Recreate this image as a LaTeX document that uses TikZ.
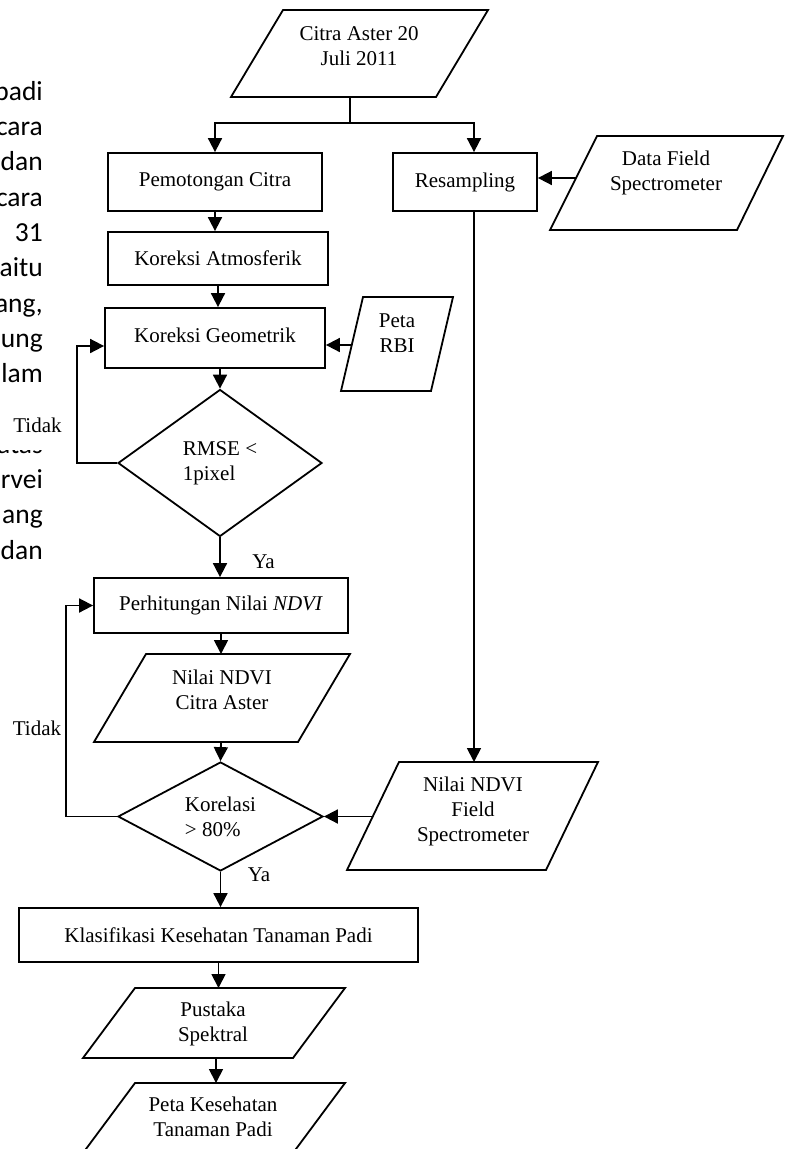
\documentclass[tikz,border=0pt]{standalone}
\usepackage{fontspec}
\setmainfont{Liberation Serif}
\newfontfamily\bgfont{Carlito}
\usetikzlibrary{arrows.meta,shapes.geometric}
\begin{document}
\begin{tikzpicture}[x=1pt,y=-1pt,
  every node/.style={font=\fontsize{21}{25}\selectfont, inner sep=0pt},
  line/.style={line width=1.8pt},
  arr/.style={line width=1.8pt, -{Triangle[length=14pt,width=14pt]}},
  box/.style={draw, line width=1.8pt, rectangle},
  dia/.style={draw, line width=1.8pt, diamond, align=left},
  para/.style={draw, line width=1.8pt},
  ptxt/.style={align=center},
  bg/.style={font=\bgfont\fontsize{27.5}{30}\selectfont, anchor=mid east}
]
\useasboundingbox (0,0) rectangle (785,1149);
\clip (0,0) rectangle (785,1149);

% background page text
\node[bg] at (43,98) {padi};
\node[bg] at (43,133.3) {cara};
\node[bg] at (43,168.6) {dan};
\node[bg] at (43,203.9) {cara};
\node[bg] at (43,239.2) {31};
\node[bg] at (43,274.5) {aitu};
\node[bg] at (43,309.8) {ang,};
\node[bg] at (43,345.1) {ung};
\node[bg] at (43,380.4) {lam};
\begin{scope}
  \clip (0,450) rectangle (70,470);
  \node[bg] at (43,451) {atas};
\end{scope}
\node[bg] at (43,486.3) {rvei};
\node[bg] at (43,521.6) {ang};
\node[bg] at (43,556.9) {dan};

% parallelograms (input/output)
\draw[para] (283,10) -- (488,10) -- (436,97) -- (231,97) -- cycle;
\node[ptxt] (citra) at (359,46.5) {Citra Aster 20\\Juli 2011};
\coordinate (citra-out) at (350,97);

\draw[para] (597,136) -- (783,136) -- (737,230) -- (550,230) -- cycle;
\node[ptxt] (data) at (666,173) {Data Field\\Spectrometer};
\coordinate (data-out) at (576,178);

\draw[para] (363,297) -- (453,297) -- (431,391) -- (341,391) -- cycle;
\node[ptxt] (rbi) at (397,333.5) {Peta\\RBI};
\coordinate (rbi-out) at (352,345);

\draw[para] (146,654) -- (350,654) -- (298,742) -- (94,742) -- cycle;
\node[ptxt] (ndvi) at (222,690) {Nilai NDVI\\Citra Aster};
\coordinate (ndvi-in) at (221,654);
\coordinate (ndvi-out) at (221,742);

\draw[para] (399,762) -- (598,762) -- (546,870) -- (347,870) -- cycle;
\node[ptxt] (field) at (473,811) {Nilai NDVI\\Field\\Spectrometer};
\coordinate (field-in) at (474,762);
\coordinate (field-out) at (372.5,816.5);

\draw[para] (135,988) -- (345,988) -- (293,1058) -- (83,1058) -- cycle;
\node[ptxt] (pus) at (213,1024) {Pustaka\\Spektral};
\coordinate (pus-in) at (218.5,988);
\coordinate (pus-out) at (216,1058);

\draw[para] (135,1083) -- (345,1083) -- (293,1153) -- (83,1153) -- cycle;
\node[ptxt] (peta) at (213,1116.5) {Peta Kesehatan\\Tanaman Padi};
\coordinate (peta-in) at (216,1083);

% process boxes
\node[box, minimum width=214pt, minimum height=58pt] (pem) at (215,182) {Pemotongan Citra};
\node[box, minimum width=220pt, minimum height=53pt] (atm) at (218,258.5) {Koreksi Atmosferik};
\node[box, minimum width=220pt, minimum height=60pt] (geo) at (215,338) {\raisebox{5pt}{Koreksi Geometrik}};
\node[box, minimum width=144pt, minimum height=58pt] (res) at (465,182) {Resampling};
\node[box, minimum width=254pt, minimum height=55pt] (perh) at (221,605.5) {Perhitungan Nilai \textit{NDVI}};
\node[box, minimum width=399pt, minimum height=54pt] (klas) at (218.5,935) {Klasifikasi Kesehatan Tanaman Padi};

% decisions
\node[dia, aspect=1.39, minimum width=204pt, minimum height=147pt] (rmse) at (220,463) {RMSE <\\1pixel};
\node[dia, aspect=1.88, minimum width=205pt, minimum height=109pt] (kor) at (220.5,816.5) {Korelasi\\> 80\%};

% connectors
\coordinate (split) at (350,123);
\draw[line] (citra-out) -- (split);
\draw[arr] (split) -| (pem.north);
\draw[arr] (split) -| ([xshift=9pt]res.north);
\draw[arr] (pem.south) -- (pem.south |- atm.north);
\draw[arr] (atm.south) -- (atm.south |- geo.north);
\draw[arr] (rmse.north |- geo.south) -- (rmse.north);
\draw[arr] (rmse.south) -- (rmse.south |- perh.north);
\draw[arr] (rmse.west) -- ++(-40,0) |- ([yshift=-8pt]geo.west);
\draw[arr] (rbi-out) -- (rbi-out -| geo.east);
\draw[arr] (data-out) -- (data-out -| res.east);
\draw[arr] ([xshift=9pt]res.south) -- (field-in);
\draw[arr] (perh.south) -- (ndvi-in);
\draw[arr] (ndvi-out) -- (kor.north);
\draw[arr] (field-out) -- (kor.east);
\draw[arr] (kor.west) -- ++(-51,0) |- (perh.west);
\draw[arr] (kor.south) -- (kor.south |- klas.north);
\draw[arr] (klas.south) -- (pus-in);
\draw[arr] (pus-out) -- (peta-in);

% labels
\node (ya1) at (263.5,562) {Ya};
\node (ya2) at (259,875) {Ya};
\node (tidak1) at (37.5,425) {Tidak};
\node (tidak2) at (37,728) {Tidak};
\end{tikzpicture}
\end{document}
